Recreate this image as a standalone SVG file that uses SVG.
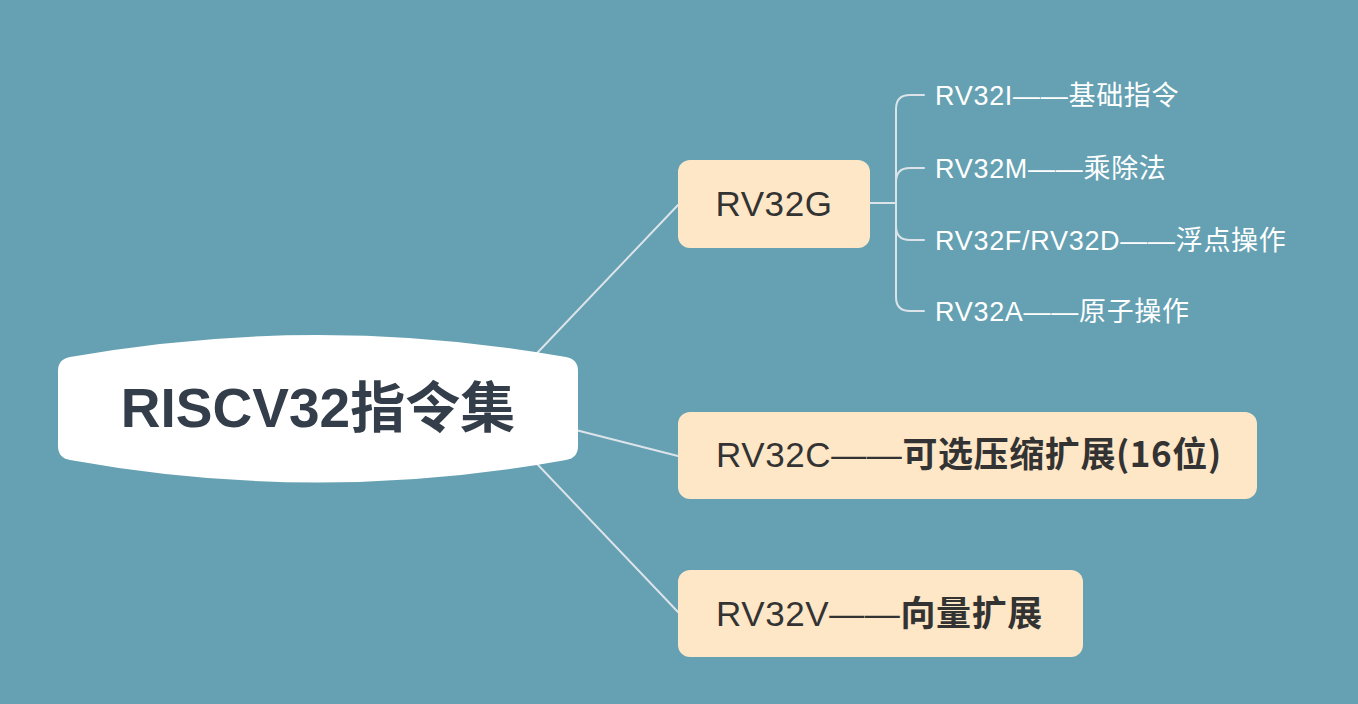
<svg xmlns="http://www.w3.org/2000/svg" width="1358" height="704" viewBox="0 0 1358 704">
<style>
.bg{fill:#65a1b2}
.conn{fill:none;stroke:#dce4ea;stroke-width:2;stroke-linecap:round}
.box{fill:#fee7c6}
.t{font-family:"Liberation Sans","Noto Sans CJK SC",sans-serif}
.main{font-size:55px;font-weight:bold;fill:#343e4a}
.lvl1{font-size:35px;fill:#333333;letter-spacing:0.6px}
.cjkb{font-family:"Noto Sans CJK SC",sans-serif;font-weight:bold}
.sub{font-size:27px;fill:#ffffff;letter-spacing:0.7px}
.cjk{font-family:"Noto Sans CJK SC",sans-serif}
</style>
<rect class="bg" x="0" y="0" width="1358" height="704"/>
<g id="connectors">
<line class="conn" x1="520" y1="371" x2="678" y2="205"/>
<line class="conn" x1="560" y1="426" x2="678" y2="456"/>
<line class="conn" x1="520" y1="446" x2="678" y2="612"/>
<path class="conn" d="M870,203 H896"/>
<path class="conn" d="M896,203 V109 Q896,95 910,95 H924"/>
<path class="conn" d="M896,203 V182 Q896,168 910,168 H924"/>
<path class="conn" d="M896,203 V226 Q896,240 910,240 H924"/>
<path class="conn" d="M896,203 V297 Q896,311 910,311 H924"/>
</g>
<g id="root">
<path fill="#ffffff" d="M70,357 Q318,313 566,357 Q578,359 578,371 V446 Q578,458 566,460 Q318,505 70,460 Q58,458 58,446 V371 Q58,359 70,357 Z"/>
<text class="t main" x="318" y="427" text-anchor="middle">RISCV32<tspan class="cjkb">指令集</tspan></text>
</g>
<g id="rv32g">
<rect class="box" x="678" y="160" width="192" height="88" rx="12"/>
<text class="t lvl1" x="774" y="216" text-anchor="middle">RV32G</text>
</g>
<g id="rv32c">
<rect class="box" x="678" y="412" width="579" height="87" rx="12"/>
<text class="t lvl1" x="716" y="467">RV32C——<tspan class="cjkb">可选压缩扩展(16位)</tspan></text>
</g>
<g id="rv32v">
<rect class="box" x="678" y="570" width="405" height="87" rx="12"/>
<text class="t lvl1" x="716" y="626">RV32V——<tspan class="cjkb">向量扩展</tspan></text>
</g>
<g id="rv32i">
<text class="t sub" x="935" y="105">RV32I——<tspan class="cjk">基础指令</tspan></text>
</g>
<g id="rv32m">
<text class="t sub" x="935" y="178">RV32M——<tspan class="cjk">乘除法</tspan></text>
</g>
<g id="rv32fd">
<text class="t sub" x="935" y="250">RV32F/RV32D——<tspan class="cjk">浮点操作</tspan></text>
</g>
<g id="rv32a">
<text class="t sub" x="935" y="321">RV32A——<tspan class="cjk">原子操作</tspan></text>
</g>
</svg>
